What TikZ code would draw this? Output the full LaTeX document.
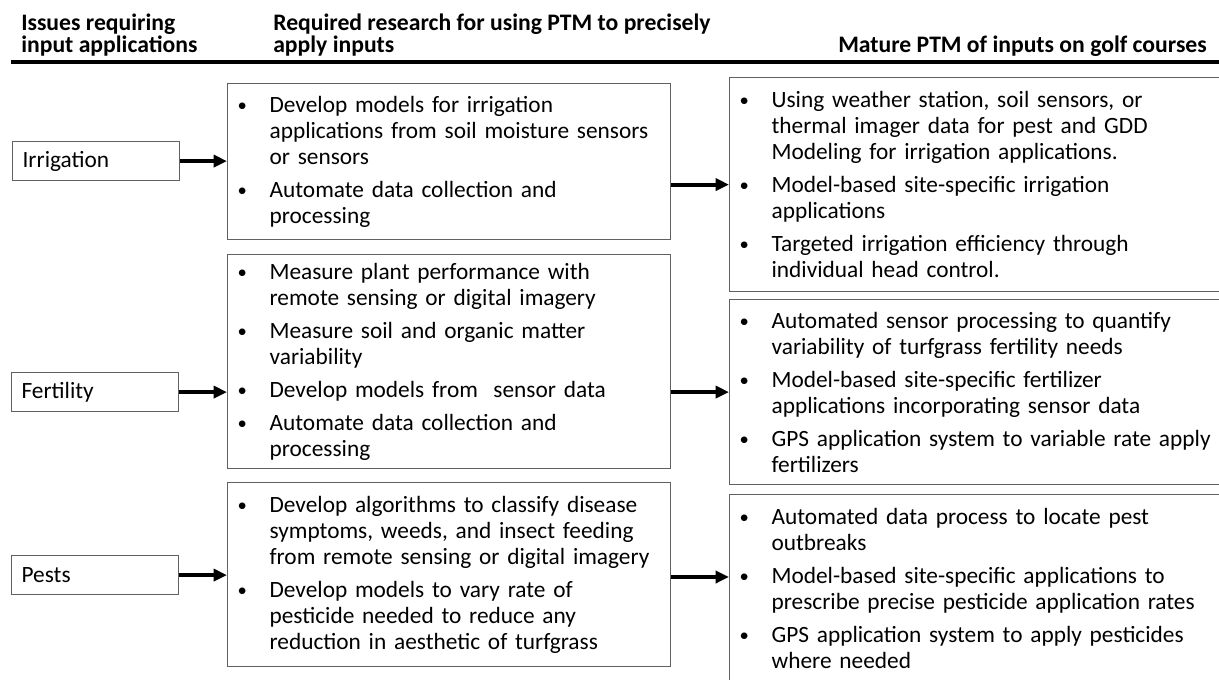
\documentclass[tikz,border=0pt]{standalone}
\usepackage{fontspec}
\setmainfont{Carlito}
\usetikzlibrary{arrows.meta}
\newcommand\bul{\makebox[24pt][l]{\raisebox{0.5pt}{\fontsize{14}{14}\selectfont\textbullet}}}
\newcommand\ind{\hspace*{24pt}}
\newcommand\gap{\\[5.25pt]}
\begin{document}
\begin{tikzpicture}[x=0.75pt,y=-0.75pt,
  box/.style={draw=black!62, line width=0.9pt, inner xsep=7.5pt, inner ysep=0pt,
    align=left, anchor=north west, font=\fontsize{17.5}{19.5}\selectfont},
  lbox/.style={box, minimum width=125.25pt, minimum height=29.25pt, text width=110.25pt},
  mbox/.style={box, minimum width=332.25pt, text width=317.25pt},
  rbox/.style={box, minimum width=375.75pt, text width=360.75pt},
  hdr/.style={font=\bfseries\fontsize{17.75}{16.5}\selectfont, align=left, inner sep=0pt},
  arr/.style={line width=3pt, -{Triangle[length=10pt,width=9pt]}}]
\useasboundingbox (0,0) rectangle (1219,680);
\clip (0,0) rectangle (1219,680);
% headers
\node[hdr, anchor=north west] (h1) at (21,14) {Issues requiring\\input applications};
\node[hdr, anchor=north west] (h2) at (273,14) {Required research for using PTM to precisely\\apply inputs};
\node[hdr, anchor=base east] (h3) at (1207,53) {Mature PTM of inputs on golf courses};
\coordinate (rl) at (11,62);
\coordinate (rr) at (1219,62);
\draw[line width=3.4pt] (rl) -- (rr);
% left boxes
\node[lbox] (irr) at (12,141) {Irrigation};
\node[lbox] (fert) at (11,372) {Fertility};
\node[lbox] (pest) at (11,555) {Pests};
% middle boxes
\node[mbox, minimum height=117pt] (m1) at (227,83) {%
\bul Develop models for irrigation\\
\ind applications from soil moisture sensors\\
\ind or sensors\gap
\bul Automate data collection and\\
\ind processing};
\node[mbox, minimum height=160.5pt] (m2) at (227,254) {%
\bul Measure plant performance with\\
\ind remote sensing or digital imagery\gap
\bul Measure soil and organic matter\\
\ind variability\gap
\bul Develop models from~ sensor data\gap
\bul Automate data collection and\\
\ind processing};
\node[mbox, minimum height=138pt] (m3) at (227,482) {%
\bul Develop algorithms to classify disease\\
\ind symptoms, weeds, and insect feeding\\
\ind from remote sensing or digital imagery\gap
\bul Develop models to vary rate of\\
\ind pesticide needed to reduce any\\
\ind reduction in aesthetic of turfgrass};
% right boxes
\node[rbox, minimum height=160.5pt] (r1) at (729,77) {%
\bul Using weather station, soil sensors, or\\
\ind thermal imager data for pest and GDD\\
\ind Modeling for irrigation applications.\gap
\bul Model-based site-specific irrigation\\
\ind applications\gap
\bul Targeted irrigation efficiency through\\
\ind individual head control.};
\node[rbox, minimum height=138.75pt] (r2) at (729,299) {%
\bul Automated sensor processing to quantify\\
\ind variability of turfgrass fertility needs\gap
\bul Model-based site-specific fertilizer\\
\ind applications incorporating sensor data\gap
\bul GPS application system to variable rate apply\\
\ind fertilizers};
\node[rbox, minimum height=141pt] (r3) at (729,494) {%
\bul Automated data process to locate pest\\
\ind outbreaks\gap
\bul Model-based site-specific applications to\\
\ind prescribe precise pesticide application rates\gap
\bul GPS application system to apply pesticides\\
\ind where needed};
% arrows
\draw[arr] (irr.east) -- (irr.east -| m1.west);
\draw[arr] (fert.east) -- (fert.east -| m2.west);
\draw[arr] (pest.east) -- (pest.east -| m3.west);
\draw[arr] (m1.east |- r1.west) -- (r1.west);
\draw[arr] (m2.east |- r2.west) -- (r2.west);
\coordinate (a3) at ([yshift=-62.25pt]r3.north west);
\draw[arr] (m3.east |- a3) -- (a3);
\end{tikzpicture}
\end{document}
